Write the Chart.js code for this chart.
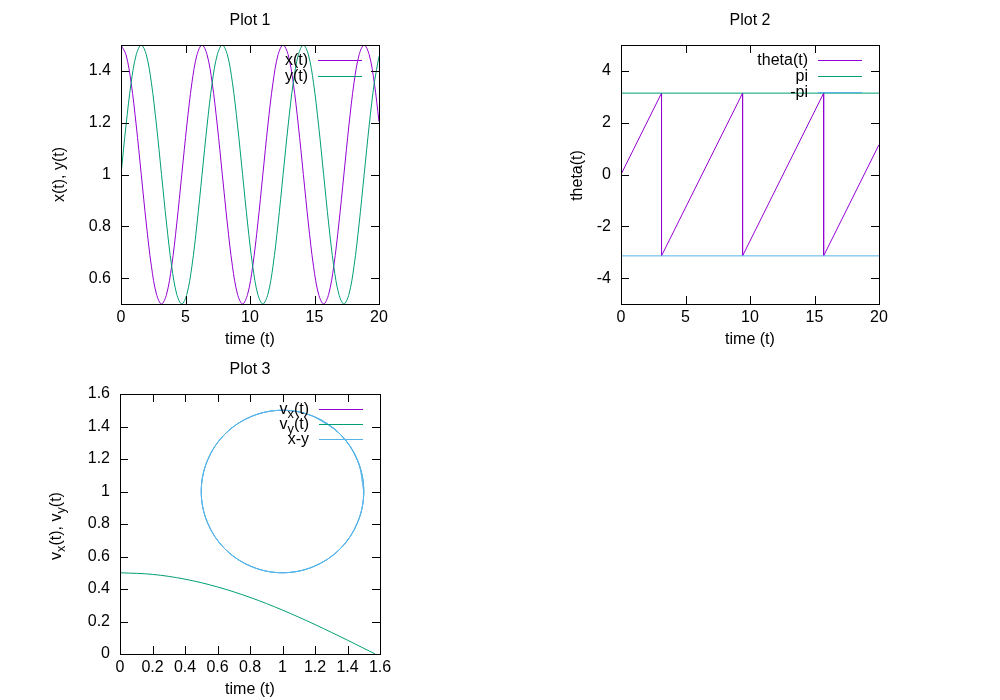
<!DOCTYPE html>
<html><head><meta charset="utf-8">
<script src="https://cdn.jsdelivr.net/npm/chart.js@4.4.1/dist/chart.umd.min.js"></script>
<style>
html,body{margin:0;padding:0;background:#fff;}
#wrap{position:relative;width:1000px;height:700px;background:#fff;overflow:hidden;}
canvas{position:absolute;}
</style></head><body>
<div id="wrap">
<canvas id="c1" width="500" height="350" style="left:0;top:0;width:500px;height:350px"></canvas>
<canvas id="c2" width="500" height="350" style="left:500px;top:0;width:500px;height:350px"></canvas>
<canvas id="c3" width="500" height="350" style="left:0;top:350px;width:500px;height:350px"></canvas>
</div>
<script>
// ---- data ----
const timeVals = [0, 0.3927, 0.7854, 1.1781, 1.5708, 1.9635, 2.3562, 2.7489, 3.1416, 3.5343, 3.927, 4.3197, 4.7124, 5.1051, 5.4978, 5.8905,
  6.2832, 6.6759, 7.0686, 7.4613, 7.854, 8.2467, 8.6394, 9.0321, 9.4248, 9.8175, 10.2102, 10.6029, 10.9956, 11.3883, 11.781, 12.1737,
  12.5664, 12.9591, 13.3518, 13.7445, 14.1372, 14.5299, 14.9226, 15.3153, 15.708, 16.1007, 16.4934, 16.8861, 17.2788, 17.6715, 18.0642, 18.4569,
  18.8496, 19.2423, 19.635, 20];
const xVals = [1.5, 1.462, 1.354, 1.191, 1.0, 0.809, 0.646, 0.538, 0.5, 0.538, 0.646, 0.809, 1.0, 1.191, 1.354, 1.462,
  1.5, 1.462, 1.354, 1.191, 1.0, 0.809, 0.646, 0.538, 0.5, 0.538, 0.646, 0.809, 1.0, 1.191, 1.354, 1.462,
  1.5, 1.462, 1.354, 1.191, 1.0, 0.809, 0.646, 0.538, 0.5, 0.538, 0.646, 0.809, 1.0, 1.191, 1.354, 1.462,
  1.5, 1.462, 1.354, 1.204];
const yVals = [1.0, 1.191, 1.354, 1.462, 1.5, 1.462, 1.354, 1.191, 1.0, 0.809, 0.646, 0.538, 0.5, 0.538, 0.646, 0.809,
  1.0, 1.191, 1.354, 1.462, 1.5, 1.462, 1.354, 1.191, 1.0, 0.809, 0.646, 0.538, 0.5, 0.538, 0.646, 0.809,
  1.0, 1.191, 1.354, 1.462, 1.5, 1.462, 1.354, 1.191, 1.0, 0.809, 0.646, 0.538, 0.5, 0.538, 0.646, 0.809,
  1.0, 1.191, 1.354, 1.456];
const thetaTime = [0, 3.1416, 3.1416, 9.4248, 9.4248, 15.708, 15.708, 20];
const thetaVals = [0, 3.1416, -3.1416, 3.1416, -3.1416, 3.1416, -3.1416, 1.1504];
const lineTime = [0, 20];
const piVals = [3.1416, 3.1416];
const negPiVals = [-3.1416, -3.1416];
const velTime = [0, 0.2, 0.4, 0.6, 0.8, 1.0, 1.2, 1.4, 1.5708];
const vxVals = [0, -0.0993, -0.1947, -0.2823, -0.3587, -0.4207, -0.466, -0.4927, -0.5];
const vyVals = [0.5, 0.49, 0.4605, 0.4127, 0.3484, 0.2702, 0.1812, 0.085, 0];
const timeTicks = [0, 5, 10, 15, 20];
const xyTicks = [0.6, 0.8, 1, 1.2, 1.4];
const thetaTicks = [-4, -2, 0, 2, 4];
const velTicks = [0, 0.2, 0.4, 0.6, 0.8, 1, 1.2, 1.4, 1.6];

// ---- styling ----
const FONT = "'Liberation Sans', Arial, Helvetica, sans-serif";
const FS = 16;
const PURPLE = '#9400D3', GREEN = '#009E73', BLUE = '#56B4E9';
Chart.defaults.font.family = FONT;
Chart.defaults.font.size = FS;
Chart.defaults.color = '#000';

const pts = (xs, ys) => xs.map((x, i) => ({x: x, y: ys[i]}));
const fmt = v => String(Math.round(v * 100) / 100);

function segFont(s) { return (s.sub ? FS * 0.8 : FS) + 'px ' + FONT; }
function drawSegs(ctx, segs, x, y, align) {
  let total = 0;
  segs.forEach(s => { ctx.font = segFont(s); total += ctx.measureText(s.t).width; });
  let cx = align === 'right' ? x - total : (align === 'center' ? x - total / 2 : x);
  ctx.textAlign = 'left';
  ctx.textBaseline = 'middle';
  segs.forEach(s => {
    ctx.font = segFont(s);
    ctx.fillText(s.t, cx, s.sub ? y + 4.5 : y);
    cx += ctx.measureText(s.t).width;
  });
}

const gnuplotPlugin = {
  id: 'gnu',
  afterDraw(chart, args, o) {
    const ctx = chart.ctx, a = chart.chartArea;
    ctx.save();
    ctx.strokeStyle = '#000';
    ctx.lineWidth = 1;
    ctx.strokeRect(a.left + 0.5, a.top + 0.5, a.right - a.left, a.bottom - a.top);
    const TL = 8;
    ctx.beginPath();
    chart.scales.x.ticks.forEach(t => {
      const p = Math.round(chart.scales.x.getPixelForValue(t.value)) + 0.5;
      ctx.moveTo(p, a.bottom); ctx.lineTo(p, a.bottom - TL);
      ctx.moveTo(p, a.top); ctx.lineTo(p, a.top + TL);
    });
    chart.scales.y.ticks.forEach(t => {
      const p = Math.round(chart.scales.y.getPixelForValue(t.value)) + 0.5;
      ctx.moveTo(a.left, p); ctx.lineTo(a.left + TL, p);
      ctx.moveTo(a.right, p); ctx.lineTo(a.right - TL, p);
    });
    ctx.stroke();
    ctx.fillStyle = '#000';
    const cxm = (a.left + a.right) / 2;
    drawSegs(ctx, [{t: o.title}], cxm, a.top - 24.5, 'center');
    drawSegs(ctx, [{t: o.xTitle}], cxm, a.bottom + 36, 'center');
    ctx.save();
    ctx.translate(a.left - o.yTitleDx, (a.top + a.bottom) / 2 + o.yTitleDy);
    ctx.rotate(-Math.PI / 2);
    drawSegs(ctx, o.yTitle, 0, 0, 'center');
    ctx.restore();
    o.legend.forEach((e, i) => {
      const y = Math.round(a.top + o.legY0 + i * o.legDy) + 0.5;
      ctx.fillStyle = '#000';
      drawSegs(ctx, e.segs, a.right - 71, y, 'right');
      ctx.strokeStyle = e.color;
      ctx.beginPath();
      ctx.moveTo(a.right - 61, y); ctx.lineTo(a.right - 17, y);
      ctx.stroke();
    });
    ctx.restore();
  }
};

function ds(data, color, tension, order) {
  return {data: data, borderColor: color, borderWidth: 1, pointRadius: 0, fill: false, tension: tension, order: order};
}

function makeChart(id, datasets, xr, yr, xt, yt, area, gnu) {
  return new Chart(document.getElementById(id), {
    type: 'line',
    data: {datasets: datasets},
    options: {
      responsive: false, animation: false, events: [],
      layout: {padding: {left: 0, top: area.top, right: 500 - area.right, bottom: 0}},
      plugins: {legend: {display: false}, tooltip: {enabled: false}, title: {display: false}, gnu: gnu},
      scales: {
        x: {type: 'linear', min: xr[0], max: xr[1],
          grid: {display: false, drawTicks: false}, border: {display: false},
          ticks: {padding: 4, color: '#000', maxRotation: 0, autoSkip: false, callback: fmt},
          afterBuildTicks: s => { s.ticks = xt.map(v => ({value: v})); },
          afterFit: s => { s.height = 350 - area.bottom; }},
        y: {type: 'linear', min: yr[0], max: yr[1],
          grid: {display: false, drawTicks: false}, border: {display: false},
          ticks: {padding: 10, color: '#000', autoSkip: false, callback: fmt},
          afterBuildTicks: s => { s.ticks = yt.map(v => ({value: v})); },
          afterFit: s => { s.width = area.left; }}
      }
    },
    plugins: [gnuplotPlugin]
  });
}

makeChart('c1',
  [ds(pts(timeVals, xVals), PURPLE, 0.35, 2), ds(pts(timeVals, yVals), GREEN, 0.35, 1)],
  [0, 20], [0.5, 1.5], timeTicks, xyTicks,
  {left: 121, top: 45, right: 379, bottom: 304},
  {title: 'Plot 1', xTitle: 'time (t)', yTitle: [{t: 'x(t), y(t)'}], yTitleDx: 61, yTitleDy: 0,
   legY0: 14.5, legDy: 16.4,
   legend: [{segs: [{t: 'x(t)'}], color: PURPLE}, {segs: [{t: 'y(t)'}], color: GREEN}]});

makeChart('c2',
  [ds(pts(thetaTime, thetaVals), PURPLE, 0, 3), ds(pts(lineTime, piVals), GREEN, 0, 2), ds(pts(lineTime, negPiVals), BLUE, 0, 1)],
  [0, 20], [-5, 5], timeTicks, thetaTicks,
  {left: 121, top: 45, right: 379, bottom: 304},
  {title: 'Plot 2', xTitle: 'time (t)', yTitle: [{t: 'theta(t)'}], yTitleDx: 43, yTitleDy: 1,
   legY0: 14.5, legDy: 16.2,
   legend: [{segs: [{t: 'theta(t)'}], color: PURPLE}, {segs: [{t: 'pi'}], color: GREEN}, {segs: [{t: '-pi'}], color: BLUE}]});

makeChart('c3',
  [ds(pts(velTime, vxVals), PURPLE, 0.35, 3), ds(pts(velTime, vyVals), GREEN, 0.35, 2), ds(pts(xVals, yVals), BLUE, 0.35, 1)],
  [0, 1.6], [0, 1.6], velTicks, velTicks,
  {left: 120, top: 44, right: 380, bottom: 304},
  {title: 'Plot 3', xTitle: 'time (t)',
   yTitle: [{t: 'v'}, {t: 'x', sub: true}, {t: '(t), v'}, {t: 'y', sub: true}, {t: '(t)'}], yTitleDx: 63, yTitleDy: 2,
   legY0: 15.3, legDy: 15,
   legend: [{segs: [{t: 'v'}, {t: 'x', sub: true}, {t: '(t)'}], color: PURPLE},
            {segs: [{t: 'v'}, {t: 'y', sub: true}, {t: '(t)'}], color: GREEN},
            {segs: [{t: 'x-y'}], color: BLUE}]});
</script>
</body></html>
